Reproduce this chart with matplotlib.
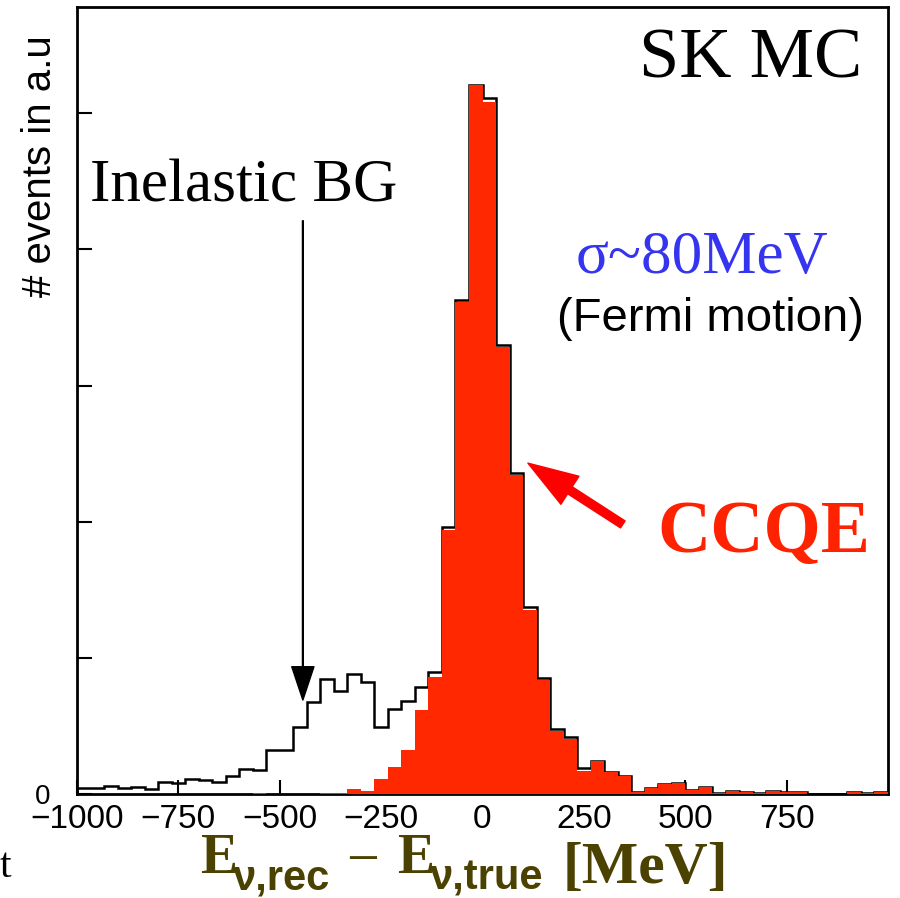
import numpy as np
import matplotlib
matplotlib.use("Agg")
import matplotlib.pyplot as plt

# E_rec - E_true histogram, 60 bins from -1000 to 1000 MeV (a.u.)
edges = np.linspace(-1000, 1000, 61)

all_events = [4.6, 4.6, 5.9, 4.2, 5.4, 3.9, 9.0, 7.9, 10.8, 10.3,
              9.0, 13.2, 18.2, 17.6, 32.4, 32.4, 49.5, 67.9, 84.3, 76.0,
              88.0, 82.6, 49.5, 62.3, 68.4, 78.5, 89.7, 196.0, 363.0, 521.0,
              511.5, 330.0, 236.0, 137.0, 85.5, 47.5, 41.5, 18.9, 24.3, 16.4,
              13.5, 1.3, 4.2, 7.1, 8.3, 2.9, 5.1, 0.5, 2.4, 1.3,
              0.4, 2.4, 1.3, 1.3, 0, 0, 0, 1.3, 0.4, 1.5]

ccqe = [0, 0, 0, 0, 0, 0, 0, 0, 0, 0,
        0, 0, 0, 0.9, 0, 0, 0, 0, 1.1, 1.1,
        3.5, 2.4, 10.8, 20.1, 32.4, 61.8, 86.0, 194.0, 361.0, 521.0,
        508.0, 328.5, 234.0, 135.3, 83.8, 46.5, 40.4, 17.1, 24.3, 16.4,
        13.5, 1.3, 4.2, 7.1, 8.3, 2.9, 5.1, 0.5, 2.4, 1.3,
        0.4, 2.4, 1.3, 1.3, 0, 0, 0, 1.3, 0.4, 1.5]

xticks = [-1000, -750, -500, -250, 0, 250, 500, 750]
yticks = [0, 100, 200, 300, 400, 500]

W, H = 900, 898
fig = plt.figure(figsize=(W / 100, H / 100), dpi=100)
ax = fig.add_axes([77 / W, 1 - 794 / H, (888 - 77) / W, (794 - 7) / H])


def fx(x):
    return x / W


def fy(y):
    return 1 - y / H


ax.stairs(all_events, edges, color="black", lw=1.8, zorder=2)
ax.stairs(ccqe, edges, fill=True, color="#ff2800", lw=1.4, zorder=3)

ax.set_xlim(-1000, 1000)
ax.set_ylim(0, 578)
ax.set_xticks(xticks)
ax.set_yticks(yticks)
ax.set_yticklabels(["0", "", "", "", "", ""])
for lab in ax.get_xticklabels() + ax.get_yticklabels():
    lab.set_family("Liberation Sans")
ax.tick_params(axis="x", direction="in", length=10, width=1.5, pad=7, labelsize=24)
ax.tick_params(axis="y", direction="in", length=11, width=1.5, pad=19, labelsize=20)
for s in ax.spines.values():
    s.set_linewidth(2)

# arrows
ax.annotate("", xy=(-443, 69), xytext=(-443, 421),
            arrowprops=dict(facecolor="black", edgecolor="black",
                            width=0.6, headwidth=16, headlength=24), zorder=5)
ax.annotate("", xy=(112, 243), xytext=(346, 198),
            arrowprops=dict(facecolor="#ff0000", edgecolor="#ff0000",
                            width=6, headwidth=24, headlength=36), zorder=5)

# texts
fig.text(fx(862), fy(78), "SK MC", ha="right", va="baseline",
         family="Liberation Serif", size=52)
fig.text(fx(90), fy(201), "Inelastic BG", ha="left", va="baseline",
         family="Liberation Serif", size=44)
fig.text(fx(702), fy(273), "σ~80MeV", ha="center", va="baseline",
         family="Liberation Serif", size=44, color="#3535f0")
fig.text(fx(710), fy(331), "(Fermi motion)", ha="center", va="baseline",
         family="Liberation Sans", size=34)
fig.text(fx(764), fy(552), "CCQE", ha="center", va="baseline",
         family="Liberation Serif", weight="bold", size=53, color="#ff2200")

fig.text(fx(40), fy(166), "# events in a.u", rotation=90, ha="center", va="center",
         family="Liberation Sans", size=29)

# x label pieces
olive = "#4b4100"
fig.text(fx(200), fy(873), "E", family="Liberation Serif", weight="bold",
         size=40, color=olive, va="baseline")
fig.text(fx(233), fy(889), "ν,rec", family="Liberation Sans", weight="bold",
         size=30, color=olive, va="baseline")
fig.text(fx(346), fy(877), "−", family="Liberation Serif",
         size=42, color=olive, va="baseline")
fig.text(fx(397), fy(873), "E", family="Liberation Serif", weight="bold",
         size=40, color=olive, va="baseline")
fig.text(fx(430), fy(889), "ν,true", family="Liberation Sans", weight="bold",
         size=30, color=olive, va="baseline")
fig.text(fx(563), fy(883), "[MeV]", family="Liberation Serif", weight="bold",
         size=43, color=olive, va="baseline")

fig.text(fx(0), fy(877), "t", family="Liberation Serif", size=30, va="baseline")

fig.savefig("out.png", dpi=100)
